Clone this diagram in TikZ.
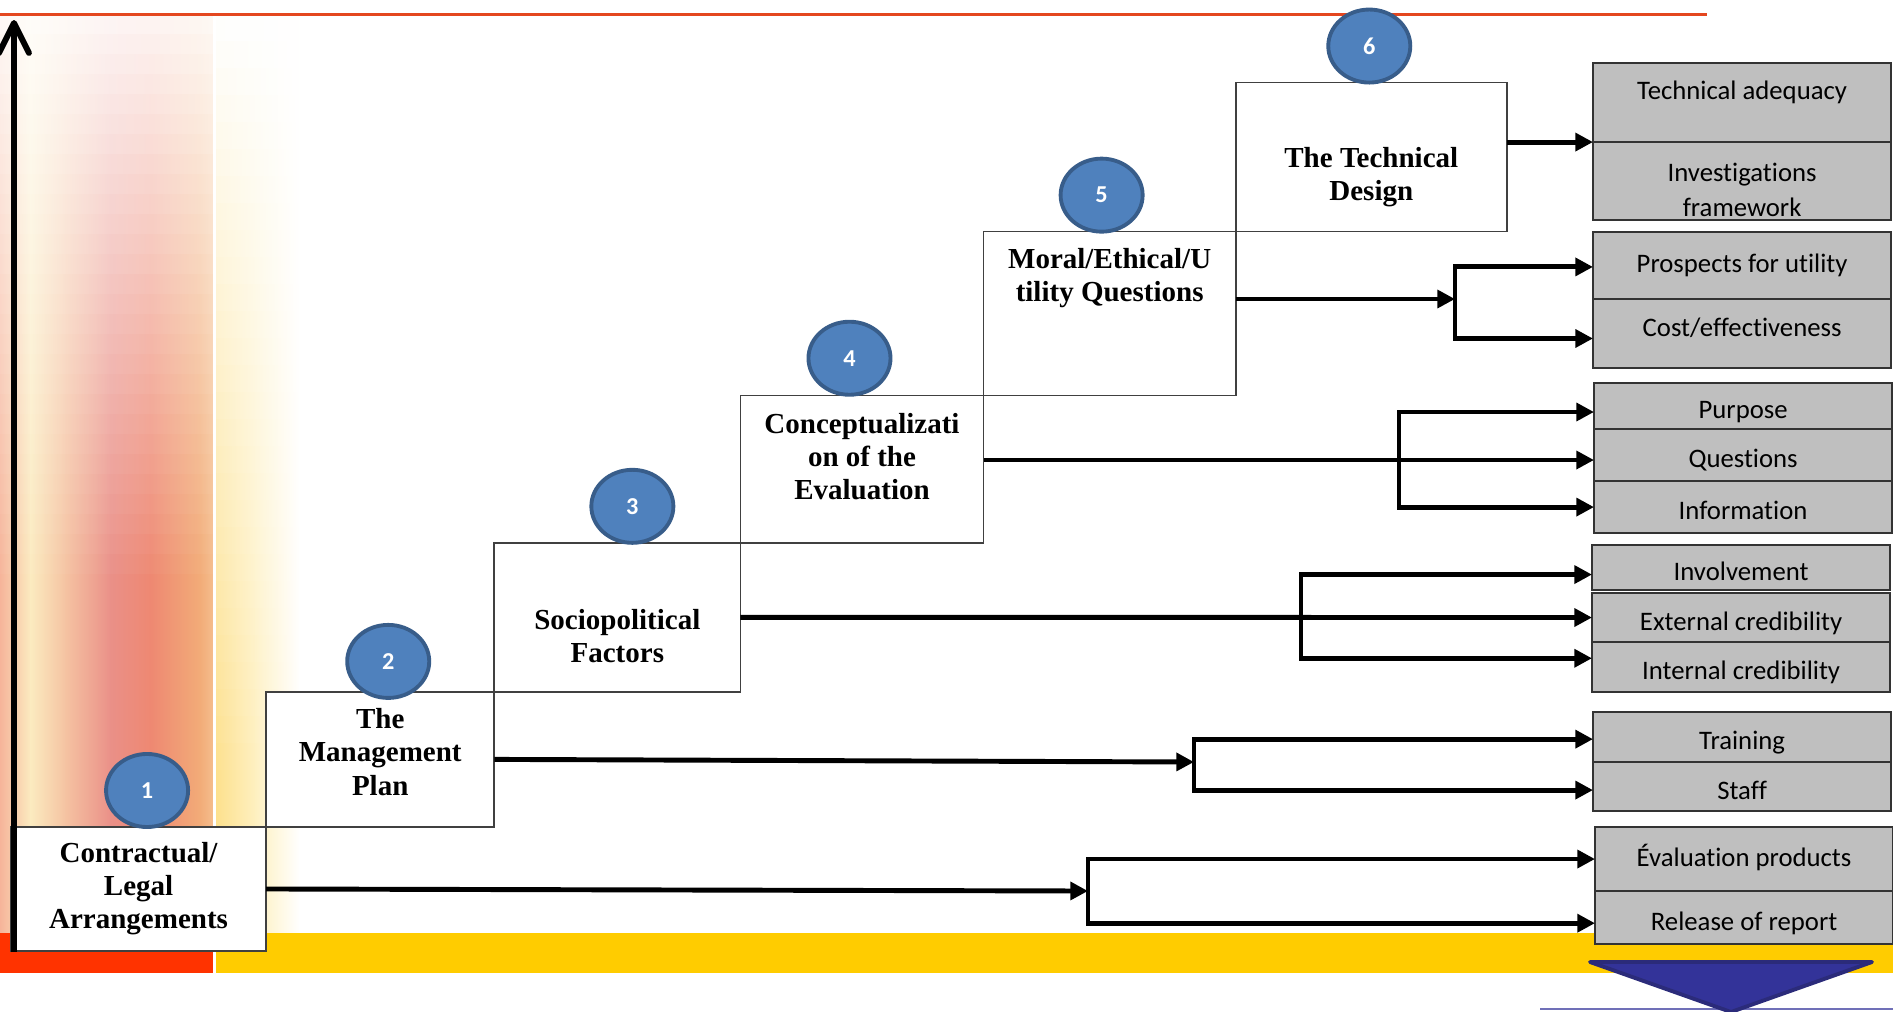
\documentclass[tikz,border=0pt]{standalone}
\usepackage{fontspec}
\setmainfont{Liberation Serif}
\newfontfamily\calibri[Ligatures=NoCommon]{Carlito}
\usetikzlibrary{positioning,calc,arrows.meta,shapes.geometric}

\definecolor{numfill}{HTML}{4F81BD}
\definecolor{numedge}{HTML}{385D8A}
\definecolor{itemgray}{HTML}{BFBFBF}
\definecolor{rulered}{HTML}{E4471F}
\definecolor{barred}{HTML}{FF3300}
\definecolor{baryellow}{HTML}{FFCC00}
\definecolor{tri}{HTML}{333399}
\definecolor{triedge}{HTML}{2B2B7A}
\definecolor{fla}{HTML}{F6B49A}
\definecolor{flb}{HTML}{FBEBC0}
\definecolor{flc}{HTML}{F5C3A2}
\definecolor{fld}{HTML}{EA9088}
\definecolor{fle}{HTML}{EE8872}
\definecolor{flf}{HTML}{F2AC78}
\definecolor{flg}{HTML}{F5BE8E}
\definecolor{flh}{HTML}{FDE08C}
\definecolor{fli}{HTML}{FEF0C0}

\newcommand{\Flame}{
    \shade[left color=fla, right color=flb] (0,14) rectangle (31,933);
    \shade[left color=flb, right color=flc] (30,14) rectangle (66,933);
    \shade[left color=flc, right color=fld] (65,14) rectangle (111,933);
    \shade[left color=fld, right color=fle] (110,14) rectangle (151,933);
    \shade[left color=fle, right color=flf] (150,14) rectangle (201,933);
    \shade[left color=flf, right color=flg] (200,14) rectangle (214,933);
    \shade[left color=flh, right color=fli] (215,14) rectangle (256,933);
    \shade[left color=fli, right color=white] (255,14) rectangle (300,933);
    \draw[white, line width=0.85pt] (214.5,14) -- (214.5,933);
    \foreach \i in {0,...,27}{
        \pgfmathsetmacro{\op}{0.9-0.032*\i}
        \fill[white, fill opacity=\op] (0,14+20*\i) rectangle (214,34+20*\i);
    }
    \foreach \i in {0,...,27}{
        \pgfmathsetmacro{\op}{0.98-0.035*\i}
        \fill[white, fill opacity=\op] (214,14+27*\i) rectangle (300,41+27*\i);
    }
}

\begin{document}
\begin{tikzpicture}[x=0.01cm, y=-0.01cm,
    stepbox/.style={draw=black!75, fill=white, line width=0.45pt, inner sep=0pt, outer sep=0pt, anchor=south west},
    steptext/.style={font=\bfseries\fontsize{8.25}{9.4}\selectfont, align=center},
    itemtext/.style={font=\calibri\fontsize{7.6}{10}\selectfont, align=center},
    itembox/.style={draw=black!80, fill=itemgray, line width=0.45pt, inner sep=0pt, outer sep=0pt, minimum width=2.98cm, anchor=north west, itemtext, text height=8.9pt, text depth=1.6pt},
    stepnum/.style={ellipse, draw=numedge, fill=numfill, line width=1.1pt, minimum width=0.82cm, minimum height=0.73cm, inner sep=0pt, text=white, font=\calibri\bfseries\fontsize{6.9}{8}\selectfont},
    feedarrow/.style={line width=1.4pt, -{Triangle[length=5pt,width=5pt]}},
    riseaxis/.style={line width=1.7pt, -{Straight Barb[length=8.5pt,width=8.5pt,line cap=round,line join=round]}}]
    \useasboundingbox (0,0) rectangle (1893,1011);
    \clip (0,0) rectangle (1893,1011);
    \Flame
    \draw[rulered, line width=0.9pt] (0,14.5) -- (1707,14.5);
    \fill[barred] (0,933) rectangle (213,973);
    \fill[baryellow] (216,933) rectangle (1893,973);
    \draw[tri!70, line width=0.5pt] (1540,1009) -- (1893,1009);
    \filldraw[fill=tri, draw=triedge, line width=1.1pt, line join=round] (1590,962) -- (1872,962) -- (1731,1012) -- cycle;

    \node[stepbox, minimum width=2.55cm, minimum height=1.24cm,
        label={[steptext]center:{Contractual/\\Legal\\Arrangements}}] (legal) at (11,951) {};
    \node[stepbox, minimum width=2.28cm, minimum height=1.35cm,
        label={[steptext, yshift=2.1pt]center:{The\\Management\\Plan}}] (mgmt) at (legal.north east) {};
    \node[stepbox, minimum width=2.46cm, minimum height=1.49cm,
        label={[steptext, yshift=-5.4pt]center:{Sociopolitical\\Factors}}] (socio) at (mgmt.north east) {};
    \node[stepbox, minimum width=2.43cm, minimum height=1.47cm,
        label={[steptext, yshift=3.6pt]center:{Conceptualizati\\on of the\\Evaluation}}] (concept) at (socio.north east) {};
    \node[stepbox, minimum width=2.52cm, minimum height=1.64cm,
        label={[steptext, yshift=10.1pt]center:{Moral/Ethical/U\\tility Questions}}] (moral) at (concept.north east) {};
    \node[stepbox, minimum width=2.71cm, minimum height=1.49cm,
        label={[steptext, yshift=-5.7pt]center:{The Technical\\Design}}] (design) at (moral.north east) {};

    \node[itembox, minimum height=0.79cm, label={[itemtext, yshift=2.85pt]center:Technical adequacy}] (adequacy) at (1593,63) {};
    \node[itembox, minimum height=0.78cm, label={[itemtext, yshift=-2.6pt]center:{Investigations\\framework}}] (framework) at (adequacy.south west) {};
    \node[itembox, minimum height=0.67cm, text height=5.6pt] (utility) at (1593,232) {Prospects for utility};
    \node[itembox, minimum height=0.69cm, text height=3.2pt] (cost) at (utility.south west) {Cost/effectiveness};
    \node[itembox, minimum height=0.46cm] (purpose) at (1594,383) {Purpose};
    \node[itembox, minimum height=0.52cm] (questions) at (purpose.south west) {Questions};
    \node[itembox, minimum height=0.52cm] (information) at (questions.south west) {Information};
    \node[itembox, minimum height=0.45cm] (involve) at (1592,545) {Involvement};
    \node[itembox, minimum height=0.49cm] (external) at (1592,593) {External credibility};
    \node[itembox, minimum height=0.50cm] (internal) at (external.south west) {Internal credibility};
    \node[itembox, minimum height=0.50cm] (training) at (1593,712) {Training};
    \node[itembox, minimum height=0.49cm] (staff) at (training.south west) {Staff};
    \node[itembox, minimum height=0.64cm, text height=5.6pt] (products) at (1595,827) {Évaluation products};
    \node[itembox, minimum height=0.53cm] (release) at (products.south west) {Release of report};

    \coordinate (fork1) at (1088,891);
    \coordinate (fork2) at (1194,762);
    \coordinate (fork3) at (1301,618);
    \coordinate (fork4) at (1399,460);
    \coordinate (fork5) at (1455,299);

    \draw[feedarrow] (legal.east) -- (fork1);
    \draw[feedarrow] (fork1) |- (products.west);
    \draw[feedarrow] (fork1) |- ([yshift=-1.6pt]release.west);
    \draw[feedarrow] (mgmt.east) -- (fork2);
    \draw[feedarrow] (fork2) |- ([yshift=-0.6pt]training.west);
    \draw[feedarrow] (fork2) |- ([yshift=-1pt]staff.west);
    \draw[feedarrow] (socio.east) -- (external.west);
    \draw[feedarrow] (fork3) |- ([yshift=-2pt]involve.west);
    \draw[feedarrow] (fork3) |- ([yshift=2.5pt]internal.west);
    \draw[feedarrow] (concept.east |- fork4) -- (questions.west |- fork4);
    \draw[feedarrow] (fork4) |- ([yshift=-1.7pt]purpose.west);
    \draw[feedarrow] (fork4) |- (information.west);
    \draw[feedarrow] (moral.east |- fork5) -- (fork5);
    \draw[feedarrow] (fork5) |- ([yshift=-0.4pt]utility.west);
    \draw[feedarrow] (fork5) |- ([yshift=-1.4pt]cost.west);
    \draw[feedarrow] (design.east |- adequacy.south west) -- (adequacy.south west);

    \coordinate (axisfoot) at (14,952);
    \coordinate (axistop) at (14,20);
    \draw[riseaxis] (axisfoot) -- (axistop);

    \node[stepnum, above=-0.02cm of legal.north, xshift=0.085cm] (n1) {1};
    \node[stepnum, above=-0.08cm of mgmt.north, xshift=0.08cm] (n2) {2};
    \node[stepnum, above=-0.02cm of socio.north, xshift=0.15cm] (n3) {3};
    \node[stepnum, above=-0.01cm of concept.north, xshift=-0.125cm] (n4) {4};
    \node[stepnum, above=-0.02cm of moral.north, xshift=-0.08cm] (n5) {5};
    \node[stepnum, above=-0.02cm of design.north, xshift=-0.02cm] (n6) {6};
\end{tikzpicture}
\end{document}
